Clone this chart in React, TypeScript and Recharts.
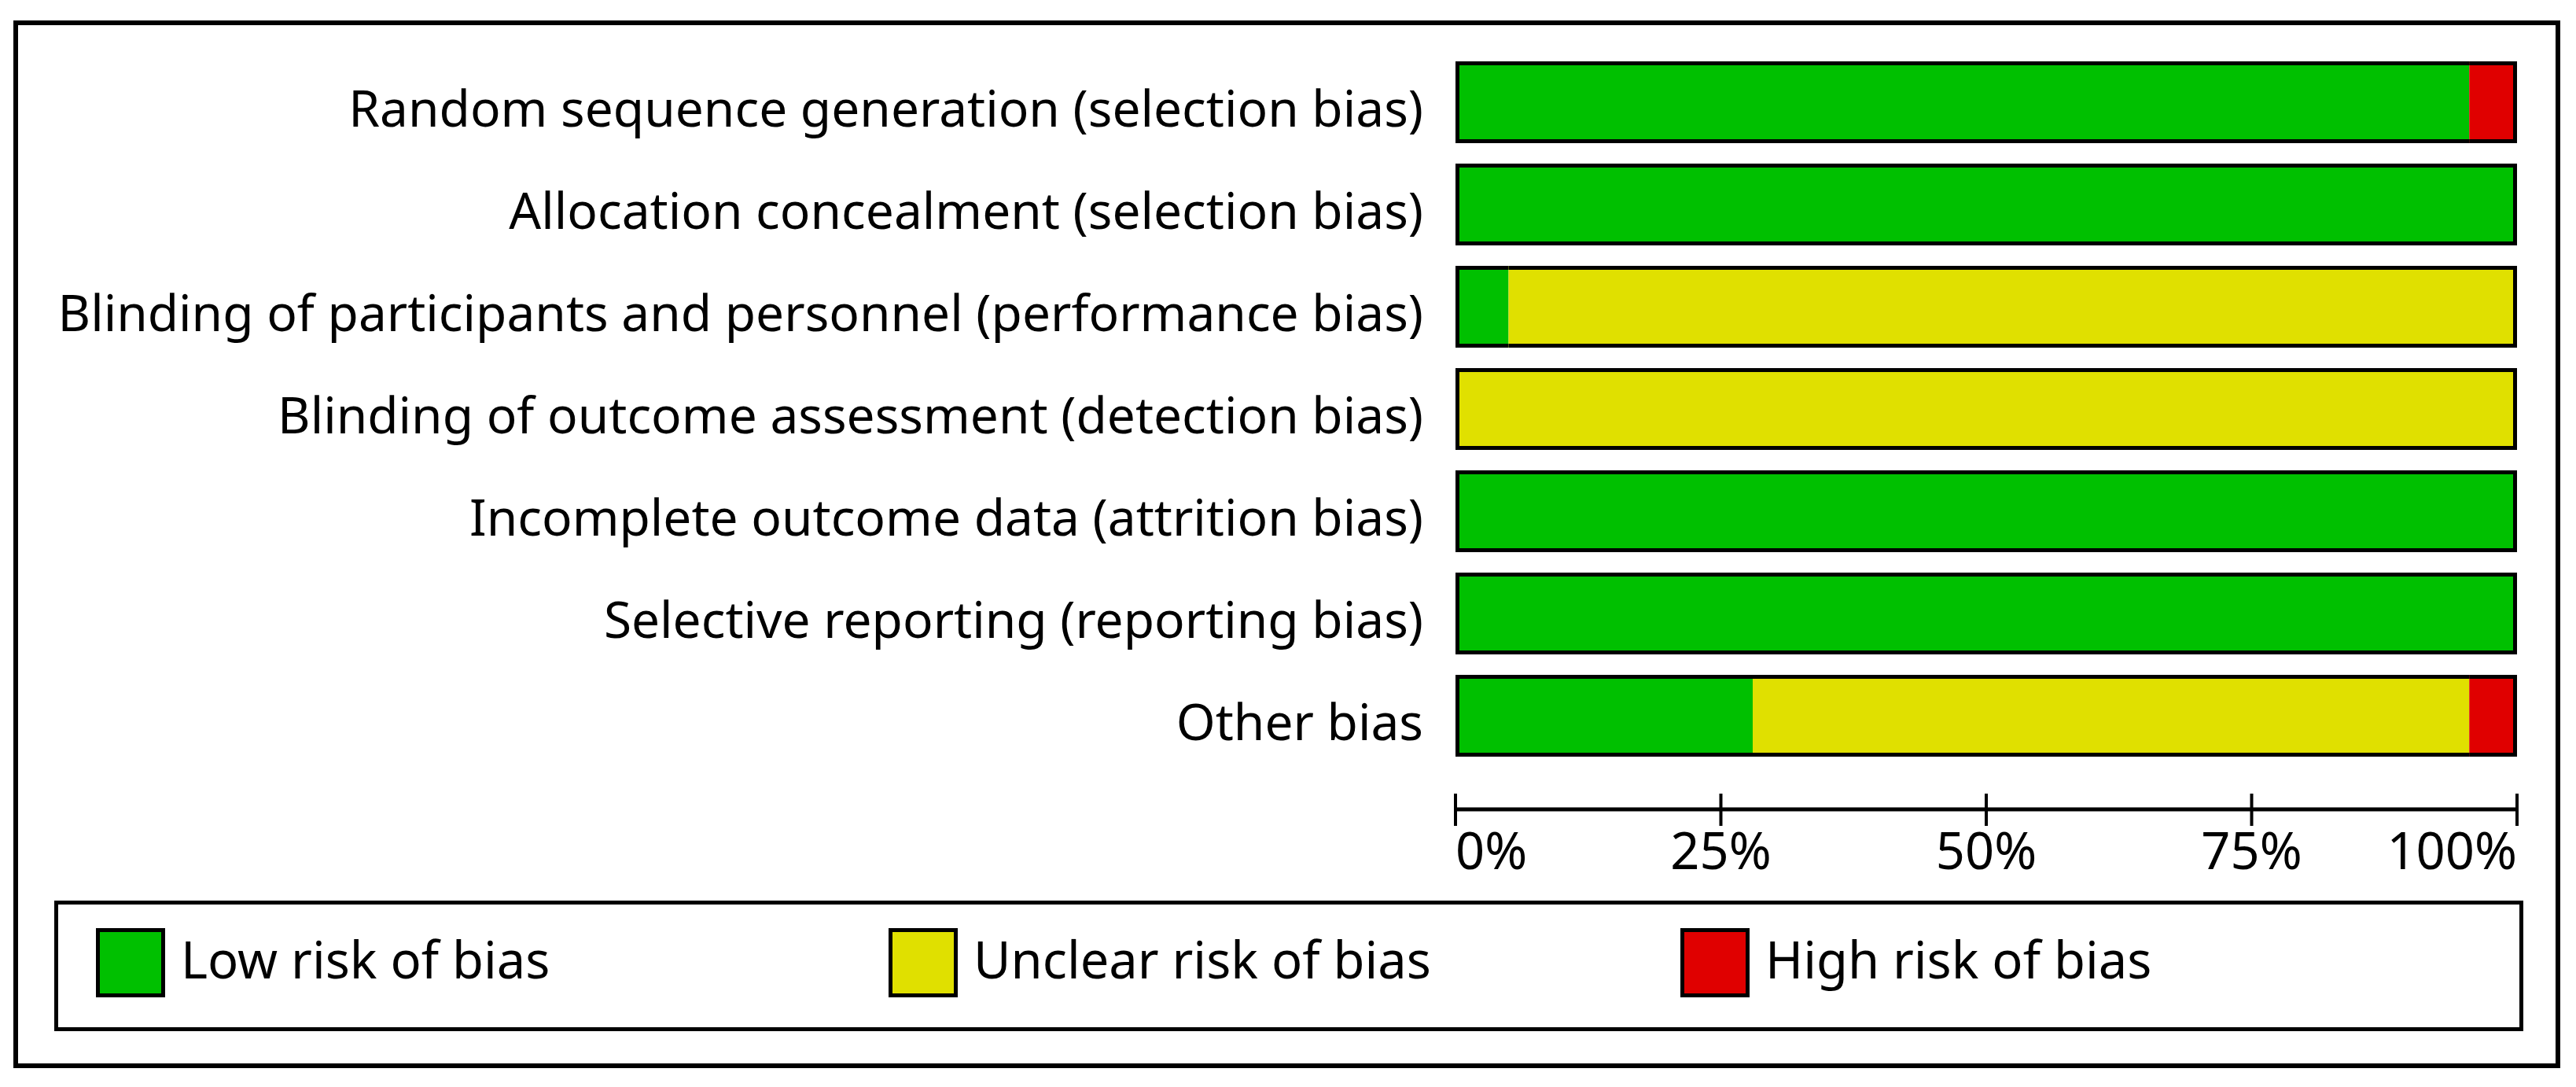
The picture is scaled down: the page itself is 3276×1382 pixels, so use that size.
import { BarChart, Bar, XAxis, YAxis } from 'recharts';

const domains = [
  'Random sequence generation (selection bias)',
  'Allocation concealment (selection bias)',
  'Blinding of participants and personnel (performance bias)',
  'Blinding of outcome assessment (detection bias)',
  'Incomplete outcome data (attrition bias)',
  'Selective reporting (reporting bias)',
  'Other bias',
];
const lowRisk = [95.5, 100, 5, 0, 100, 100, 28];
const unclearRisk = [0, 0, 95, 100, 0, 0, 67.5];
const highRisk = [4.5, 0, 0, 0, 0, 0, 4.5];
const xTicks = [0, 25, 50, 75, 100];

const legendItems = [
  { key: 'low', label: 'Low risk of bias', color: '#00C000' },
  { key: 'unclear', label: 'Unclear risk of bias', color: '#E0E000' },
  { key: 'high', label: 'High risk of bias', color: '#E00000' },
];

const data = domains.map((d, i) => ({
  domain: d,
  low: lowRisk[i],
  unclear: unclearRisk[i],
  high: highRisk[i],
}));

const FONT = '"Noto Sans", sans-serif';
const W = 3276;
const H = 1382;
const PLOT_LEFT = 1851;
const PLOT_RIGHT = 3201;
const SW = 5;

// segment with black edges on top/bottom, and on the ends of the whole bar
const Segment = (props: any) => {
  const { x, y, width, height, fill } = props;
  if (!width || width <= 0) return <g />;
  const h = SW / 2;
  const isLeft = Math.abs(x - PLOT_LEFT) < 1;
  const isRight = Math.abs(x + width - PLOT_RIGHT) < 1;
  return (
    <g>
      <rect x={x} y={y} width={width} height={height} fill={fill} />
      <line x1={x} x2={x + width} y1={y + h} y2={y + h} stroke="#000" strokeWidth={SW} />
      <line x1={x} x2={x + width} y1={y + height - h} y2={y + height - h} stroke="#000" strokeWidth={SW} />
      {isLeft && <line x1={x + h} x2={x + h} y1={y} y2={y + height} stroke="#000" strokeWidth={SW} />}
      {isRight && <line x1={x + width - h} x2={x + width - h} y1={y} y2={y + height} stroke="#000" strokeWidth={SW} />}
    </g>
  );
};

const CategoryTick = ({ x, y, payload }: any) => (
  <text x={x} y={y} dy={31} textAnchor="end" fontFamily={FONT} fontSize={64} fill="#000">
    {payload.value}
  </text>
);

const PercentTick = ({ x, y, payload, index }: any) => {
  const anchor = index === 0 ? 'start' : index === xTicks.length - 1 ? 'end' : 'middle';
  return (
    <g>
      <line x1={x} x2={x} y1={y - 20} y2={y + 21} stroke="#000" strokeWidth={4} />
      <text x={x} y={y + 76} textAnchor={anchor} fontFamily={FONT} fontSize={65} fill="#000">
        {payload.value}%
      </text>
    </g>
  );
};

export default function App() {
  const swatchLefts = [122, 1130, 2137];
  return (
    <div style={{ position: 'relative', width: W, height: H, background: '#fff' }}>
      <style>{`body{margin:0}`}</style>
      <div
        style={{
          position: 'absolute', left: 17, top: 26, width: 3239, height: 1332,
          border: '6px solid #000', boxSizing: 'border-box',
        }}
      />
      <div style={{ position: 'absolute', left: 0, top: 0 }}>
        <BarChart
          width={W}
          height={H}
          data={data}
          layout="vertical"
          margin={{ top: 65, right: W - PLOT_RIGHT, bottom: H - 1029 - 100, left: 0 }}
          barCategoryGap={26}
        >
          <XAxis
            type="number"
            domain={[0, 100]}
            ticks={xTicks}
            height={100}
            tickSize={0}
            tickMargin={0}
            tickLine={false}
            axisLine={{ stroke: '#000', strokeWidth: 5 }}
            tick={<PercentTick />}
            interval={0}
          />
          <YAxis
            type="category"
            dataKey="domain"
            width={PLOT_LEFT}
            tickSize={0}
            tickMargin={41}
            tickLine={false}
            axisLine={false}
            padding={{ top: 0, bottom: 54 }}
            tick={<CategoryTick />}
            interval={0}
          />
          <Bar dataKey="low" stackId="r" fill="#00C000" barSize={104} shape={<Segment />} isAnimationActive={false} />
          <Bar dataKey="unclear" stackId="r" fill="#E0E000" barSize={104} shape={<Segment />} isAnimationActive={false} />
          <Bar dataKey="high" stackId="r" fill="#E00000" barSize={104} shape={<Segment />} isAnimationActive={false} />
        </BarChart>
      </div>
      <div
        style={{
          position: 'absolute', left: 69, top: 1145, width: 3140, height: 166,
          border: '5px solid #000', boxSizing: 'border-box',
        }}
      />
      {legendItems.map((item, i) => (
        <div key={item.key}>
          <div
            style={{
              position: 'absolute', left: swatchLefts[i], top: 1180, width: 88, height: 88,
              background: item.color, border: '5px solid #000', boxSizing: 'border-box',
            }}
          />
          <div
            style={{
              position: 'absolute', left: swatchLefts[i] + 108, top: 1187,
              fontFamily: FONT, fontSize: 65, lineHeight: '65px', color: '#000', whiteSpace: 'nowrap',
            }}
          >
            {item.label}
          </div>
        </div>
      ))}
    </div>
  );
}
